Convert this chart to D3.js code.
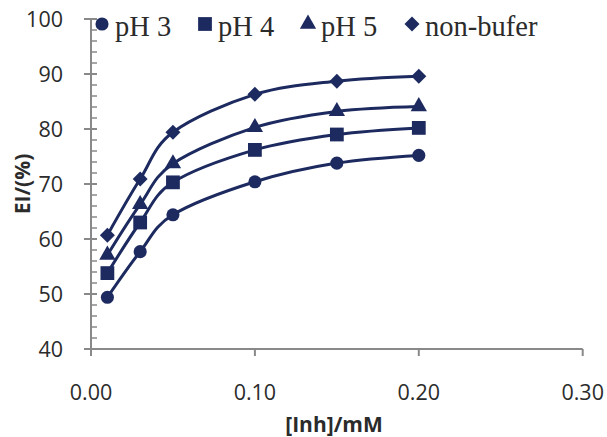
<!DOCTYPE html>
<html>
<head>
<meta charset="utf-8">
<script src="https://cdn.jsdelivr.net/npm/d3@7"></script>
<style>
  html, body { margin: 0; padding: 0; background: #fff; }
  svg { display: block; }
</style>
</head>
<body>
<svg id="chart" width="607" height="437"></svg>
<script>
// Inhibitor concentration (mM)
const concentrations = [0.01, 0.03, 0.05, 0.10, 0.15, 0.20];
// Inhibition efficiency (%) for each medium
const seriesNames = ["pH 3", "pH 4", "pH 5", "non-bufer"];
const ph3 = [49.4, 57.7, 64.4, 70.4, 73.8, 75.2];
const ph4 = [53.8, 63.0, 70.3, 76.2, 79.0, 80.2];
const ph5 = [57.1, 66.3, 73.7, 80.3, 83.2, 84.1];
const nonBuffer = [60.7, 70.9, 79.4, 86.3, 88.7, 89.6];
const xTicks = [0, 0.1, 0.2, 0.3];
const yTicks = [40, 50, 60, 70, 80, 90, 100];

const seriesValues = [ph3, ph4, ph5, nonBuffer];
// diamond is drawn as a square turned 45 degrees
const symbols = [d3.symbolCircle, d3.symbolSquare, d3.symbolTriangle, d3.symbolSquare];
const symbolSizes = [135, 190, 115, 112];
const symbolRotation = [0, 0, 0, 45];

const navy = "#1d2a5f";
const axisGrey = "#898989";
const textColor = "#2b2b2b";

const svg = d3.select("#chart");

const x = d3.scaleLinear().domain([0, 0.3]).range([91, 582.7]);
const y = d3.scaleLinear().domain([40, 100]).range([349, 19]);

// y axis: major ticks cross the line, minor ticks sit inside
const yMinor = d3.range(40, 100.1, 2).filter(v => v % 10 !== 0);
const gy = svg.append("g");
gy.append("line")
  .attr("x1", x(0)).attr("x2", x(0))
  .attr("y1", y(40)).attr("y2", y(100))
  .attr("stroke", axisGrey).attr("stroke-width", 2);
gy.selectAll(".major").data(yTicks).join("line")
  .attr("x1", x(0) - 7).attr("x2", x(0) + 6)
  .attr("y1", d => y(d)).attr("y2", d => y(d))
  .attr("stroke", axisGrey).attr("stroke-width", 2);
gy.selectAll(".minor").data(yMinor).join("line")
  .attr("x1", x(0)).attr("x2", x(0) + 6)
  .attr("y1", d => y(d)).attr("y2", d => y(d))
  .attr("stroke", axisGrey).attr("stroke-width", 1.5);
gy.selectAll("text").data(yTicks).join("text")
  .attr("x", 63).attr("y", d => y(d))
  .attr("dy", "0.36em")
  .attr("text-anchor", "end")
  .attr("font-family", "'Open Sans', sans-serif")
  .attr("font-size", 21.5)
  .attr("fill", textColor)
  .text(d => d);

// x axis
const gx = svg.append("g");
gx.append("line")
  .attr("x1", x(0)).attr("x2", x(0.3))
  .attr("y1", y(40)).attr("y2", y(40))
  .attr("stroke", axisGrey).attr("stroke-width", 2);
gx.selectAll(".tick").data(xTicks).join("line")
  .attr("x1", d => x(d)).attr("x2", d => x(d))
  .attr("y1", y(40)).attr("y2", y(40) + 7)
  .attr("stroke", axisGrey).attr("stroke-width", 2);
gx.selectAll("text").data(xTicks).join("text")
  .attr("x", d => x(d)).attr("y", 400)
  .attr("text-anchor", "middle")
  .attr("font-family", "'Open Sans', sans-serif")
  .attr("font-size", 21.5)
  .attr("fill", textColor)
  .text(d => d3.format(".2f")(d));

// axis titles
svg.append("text")
  .attr("x", 334).attr("y", 432)
  .attr("text-anchor", "middle")
  .attr("font-family", "'Open Sans', sans-serif")
  .attr("font-weight", "bold")
  .attr("font-size", 21)
  .attr("fill", textColor)
  .text("[Inh]/mM");
svg.append("text")
  .attr("transform", "translate(30,184) rotate(-90)")
  .attr("text-anchor", "middle")
  .attr("font-family", "'Open Sans', sans-serif")
  .attr("font-weight", "bold")
  .attr("font-size", 21)
  .attr("fill", textColor)
  .text("EI/(%)");

// smoothed series lines (spreadsheet-style Catmull-Rom) with markers
const line = d3.line()
  .x((d, i) => x(concentrations[i]))
  .y(d => y(d))
  .curve(d3.curveCardinal.tension(0));

seriesValues.forEach((vals, s) => {
  const g = svg.append("g");
  g.append("path")
    .attr("d", line(vals))
    .attr("fill", "none")
    .attr("stroke", navy)
    .attr("stroke-width", 3);
  g.selectAll("path.pt").data(vals).join("path")
    .attr("class", "pt")
    .attr("transform", (d, i) =>
      `translate(${x(concentrations[i])},${y(d)}) rotate(${symbolRotation[s]})`)
    .attr("d", d3.symbol().type(symbols[s]).size(symbolSizes[s]))
    .attr("fill", navy);
});

// legend
const legendX = [102, 205, 308, 412];
const legend = svg.append("g");
seriesNames.forEach((name, s) => {
  legend.append("path")
    .attr("transform", `translate(${legendX[s]},24) rotate(${symbolRotation[s]})`)
    .attr("d", d3.symbol().type(symbols[s]).size(symbolSizes[s]))
    .attr("fill", navy);
  legend.append("text")
    .attr("x", legendX[s] + 13).attr("y", 35.5)
    .attr("font-family", "'Liberation Serif', 'Times New Roman', serif")
    .attr("font-size", 28.5)
    .attr("fill", textColor)
    .text(name);
});
</script>
</body>
</html>
